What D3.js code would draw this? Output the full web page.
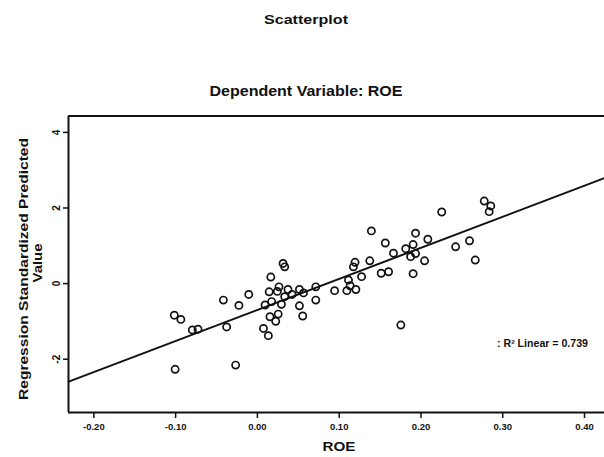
<!DOCTYPE html>
<html>
<head>
<meta charset="utf-8">
<script src="https://cdn.jsdelivr.net/npm/d3@7/dist/d3.min.js"></script>
<style>
  html, body { margin: 0; padding: 0; background: #ffffff; }
  svg { display: block; }
  text { font-family: "Liberation Sans", Arial, sans-serif; font-weight: bold; fill: #111; }
</style>
</head>
<body>
<svg id="chart" width="604" height="457"></svg>
<script>
// ---- data ----
const roe = [-0.100,-0.101,-0.093,-0.079,-0.072,-0.041,-0.037,-0.026,-0.022,-0.010,
  0.008,0.014,0.010,0.017,0.015,0.018,0.016,0.023,0.026,0.025,
  0.027,0.032,0.034,0.030,0.034,0.038,0.043,0.052,0.057,0.052,
  0.056,0.072,0.072,0.095,0.112,0.114,0.110,0.121,0.128,0.118,
  0.120,0.138,0.140,0.152,0.161,0.157,0.167,0.176,0.182,0.191,
  0.188,0.194,0.194,0.209,0.205,0.191,0.226,0.243,0.260,0.267,
  0.278,0.286,0.284];
const predicted = [-2.28,-0.85,-0.96,-1.24,-1.22,-0.45,-1.16,-2.17,-0.59,-0.30,
  -1.20,-1.39,-0.58,0.16,-0.23,-0.49,-0.89,-1.01,-0.82,-0.22,
  -0.10,0.52,0.43,-0.56,-0.36,-0.17,-0.30,-0.17,-0.26,-0.60,
  -0.87,-0.10,-0.45,-0.20,0.08,-0.07,-0.20,-0.17,0.17,0.43,
  0.55,0.59,1.38,0.26,0.30,1.06,0.79,-1.11,0.91,1.02,
  0.70,0.78,1.32,1.16,0.59,0.25,1.88,0.96,1.12,0.61,
  2.17,2.04,1.89];
const fitIntercept = -0.716;
const fitSlope = 8.22;
const xTicks = [-0.20,-0.10,0.00,0.10,0.20,0.30,0.40];
const xTickLabels = ["-0.20","-0.10","0.00","0.10","0.20","0.30","0.40"];
const yTicks = [4,2,0,-2];
const yTickLabels = ["4","2","0","-2"];
const fitLabel = ": R\u00B2 Linear = 0.739";

// ---- layout ----
const svg = d3.select("#chart");
const pLeft = 68, pRight = 620, pTop = 116, pBottom = 412;
const x = d3.scaleLinear().domain([-0.231, 0.444]).range([pLeft, pRight]);
const y = d3.scaleLinear().domain([-3.41, 4.42]).range([pBottom, pTop]);

// titles
svg.append("text").attr("x", 306).attr("y", 24).attr("text-anchor", "middle")
  .style("font-size", "13.5px").attr("textLength", 84).attr("lengthAdjust", "spacingAndGlyphs")
  .text("Scatterplot");
svg.append("text").attr("x", 306).attr("y", 96).attr("text-anchor", "middle")
  .style("font-size", "14px").attr("textLength", 193).attr("lengthAdjust", "spacingAndGlyphs")
  .text("Dependent Variable: ROE");

// regression line
const plot = svg.append("g");
plot.append("line")
  .attr("x1", x(-0.231)).attr("y1", y(fitIntercept + fitSlope * -0.231))
  .attr("x2", x(0.444)).attr("y2", y(fitIntercept + fitSlope * 0.444))
  .attr("stroke", "#111").attr("stroke-width", 2);

// points
plot.selectAll("circle").data(roe.map((d, i) => [d, predicted[i]])).join("circle")
  .attr("cx", d => x(d[0])).attr("cy", d => y(d[1])).attr("r", 3.6)
  .attr("fill", "none").attr("stroke", "#111").attr("stroke-width", 1.7);

// frame: top border
svg.append("line").attr("x1", pLeft).attr("x2", 604).attr("y1", pTop).attr("y2", pTop)
  .attr("stroke", "#111").attr("stroke-width", 2);

// x axis
const xAxis = svg.append("g").attr("transform", `translate(0,${pBottom})`)
  .call(d3.axisBottom(x).tickValues(xTicks).tickFormat((d, i) => xTickLabels[i])
    .tickSizeOuter(0).tickSize(6).tickPadding(5));
xAxis.select(".domain").attr("stroke", "#111").attr("stroke-width", 2)
  .attr("d", `M${pLeft},0.5H604`);
xAxis.selectAll(".tick line").attr("stroke", "#111").attr("stroke-width", 1.5);
xAxis.selectAll(".tick text").style("font-size", "9.5px")
  .style("font-family", "'Liberation Sans', Arial, sans-serif").style("font-weight", "bold").attr("fill", "#111");

// y axis
const yAxis = svg.append("g").attr("transform", `translate(${pLeft},0)`)
  .call(d3.axisLeft(y).tickValues(yTicks).tickFormat((d, i) => yTickLabels[i])
    .tickSizeOuter(0).tickSize(5));
yAxis.select(".domain").attr("stroke", "#111").attr("stroke-width", 2)
  .attr("d", `M0.5,${pTop}V${pBottom}`);
yAxis.selectAll(".tick line").attr("stroke", "#111").attr("stroke-width", 1.5);
yAxis.selectAll(".tick text").remove();
yAxis.selectAll(".tick").append("text")
  .attr("transform", "translate(-8,0) rotate(-90)")
  .attr("text-anchor", "middle").attr("dy", "0")
  .style("font-size", "10px").attr("fill", "#111")
  .text((d, i) => yTickLabels[i]);

// axis titles
svg.append("text").attr("x", 339).attr("y", 451).attr("text-anchor", "middle")
  .style("font-size", "13px").attr("textLength", 33).attr("lengthAdjust", "spacingAndGlyphs")
  .text("ROE");
svg.append("text").attr("transform", "translate(28,269) rotate(-90)")
  .attr("text-anchor", "middle").style("font-size", "12.5px")
  .attr("textLength", 262).attr("lengthAdjust", "spacingAndGlyphs")
  .text("Regression Standardized Predicted");
svg.append("text").attr("transform", "translate(42,263) rotate(-90)")
  .attr("text-anchor", "middle").style("font-size", "12.5px")
  .attr("textLength", 39).attr("lengthAdjust", "spacingAndGlyphs")
  .text("Value");

// fit label
svg.append("text").attr("x", 497).attr("y", 347).style("font-size", "10px")
  .attr("textLength", 91).attr("lengthAdjust", "spacingAndGlyphs")
  .text(fitLabel);
</script>
</body>
</html>
